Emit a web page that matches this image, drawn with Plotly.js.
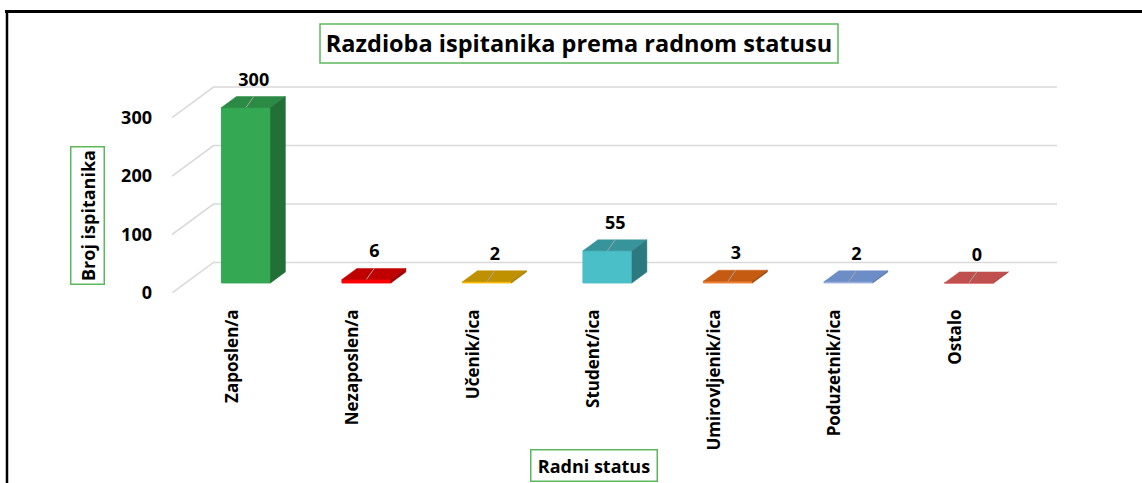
<!DOCTYPE html>
<html>
<head>
<meta charset="utf-8">
<script src="https://cdn.plot.ly/plotly-3.0.1.min.js"></script>
<style>
  html, body { margin: 0; padding: 0; background: #ffffff; }
  #chart { width: 1142px; height: 483px; }
</style>
</head>
<body>
<div id="chart"></div>
<script>
// ---- data ----
const categories = ['Zaposlen/a', 'Nezaposlen/a', 'Učenik/ica', 'Student/ica', 'Umirovljenik/ica', 'Poduzetnik/ica', 'Ostalo'];
const values = [300, 6, 2, 55, 3, 2, 0];
const yTicks = [0, 100, 200, 300];
const frontColors = ['#34A853', '#FF0000', '#FFC000', '#4BBFC8', '#ED7D31', '#9DB7E3', '#E06060'];
const topColors   = ['#2B8B45', '#C00000', '#BF9000', '#37949B', '#C55A11', '#6C8DC6', '#C0504D'];
const sideColors  = ['#226F37', '#A00000', '#A07800', '#2C7A80', '#A04A0E', '#5A78B0', '#A04040'];

// ---- geometry (oblique 3D projection) ----
const L = 172, R = 85, T = 55, B = 190, W = 1142, H = 483;
const plotW = W - L - R, plotH = H - T - B;
const pxPerCat = 120.5, pxPerUnit = 0.5847;
const DX = 41.5 / pxPerCat;      // full depth in x units
const DY = 30.5 / pxPerUnit;     // full depth in y units
const d1 = 0.33, d2 = 0.69;      // bar front/back depth
const bw = 49 / pxPerCat;        // bar width
const xMin = -0.5, xMax = xMin + plotW / pxPerCat;
const yMax = plotH / pxPerUnit;
const n = categories.length;

const px2paperX = p => (p - L) / plotW;
const px2paperY = p => 1 - (p - T) / plotH;

const traces = [];
// front faces (bars)
traces.push({
  type: 'bar',
  x: categories.map((c, i) => i + d1 * DX),
  y: values,
  base: values.map(() => d1 * DY),
  width: bw,
  marker: { color: frontColors, line: { color: frontColors, width: 1 } },
  hoverinfo: 'skip',
  showlegend: false
});
// top and side faces
values.forEach((v, i) => {
  const xl = i - bw / 2, xr = i + bw / 2;
  traces.push({
    type: 'scatter', mode: 'lines', fill: 'toself',
    x: [xl + d1 * DX, xr + d1 * DX, xr + d2 * DX, xl + d2 * DX, xl + d1 * DX],
    y: [v + d1 * DY, v + d1 * DY, v + d2 * DY, v + d2 * DY, v + d1 * DY],
    fillcolor: topColors[i], line: { color: topColors[i], width: 0.5 },
    hoverinfo: 'skip', showlegend: false
  });
  traces.push({
    type: 'scatter', mode: 'lines', fill: 'toself',
    x: [xr + d1 * DX, xr + d2 * DX, xr + d2 * DX, xr + d1 * DX, xr + d1 * DX],
    y: [d1 * DY, d2 * DY, v + d2 * DY, v + d1 * DY, d1 * DY],
    fillcolor: sideColors[i], line: { color: sideColors[i], width: 0.5 },
    hoverinfo: 'skip', showlegend: false
  });
});
// leader lines and data labels
const labX = values.map((v, i) => i + d1 * DX + 0.065);
const lx = [], ly = [];
values.forEach((v, i) => {
  lx.push(i + d1 * DX, labX[i], null);
  ly.push(v + d1 * DY, v + d2 * DY, null);
});
traces.push({
  type: 'scatter', mode: 'lines', x: lx, y: ly,
  line: { color: '#A6A6A6', width: 1 }, hoverinfo: 'skip', showlegend: false
});
traces.push({
  type: 'scatter', mode: 'text',
  x: labX,
  y: values.map(v => v + d2 * DY + 15.5 / pxPerUnit),
  text: values.map(String),
  textposition: 'middle center',
  textfont: { family: 'Open Sans, sans-serif', size: 18, color: '#000000', weight: 700 },
  cliponaxis: false, hoverinfo: 'skip', showlegend: false
});

// back wall gridlines as below-layer path shapes
const shapes = yTicks.map(t => ({
  type: 'path', layer: 'below', xref: 'x', yref: 'y',
  path: `M ${xMin},${t} L ${xMin + DX},${t + DY} L ${xMin + n + DX},${t + DY}`,
  line: { color: '#D9D9D9', width: 1.5 }
}));
// chart frame
shapes.push({ type: 'line', xref: 'paper', yref: 'paper',
  x0: px2paperX(5), x1: px2paperX(1142), y0: px2paperY(11.5), y1: px2paperY(11.5),
  line: { color: '#000000', width: 3 } });
shapes.push({ type: 'line', xref: 'paper', yref: 'paper',
  x0: px2paperX(7), x1: px2paperX(7), y0: px2paperY(10), y1: px2paperY(484),
  line: { color: '#000000', width: 2.5 } });
// title box
shapes.push({ type: 'rect', xref: 'paper', yref: 'paper',
  x0: px2paperX(320), x1: px2paperX(838), y0: px2paperY(24), y1: px2paperY(63),
  line: { color: '#5CB85C', width: 1.5 }, fillcolor: 'rgba(0,0,0,0)' });

const boldFont = (s) => ({ family: 'Open Sans, sans-serif', size: s, color: '#000000', weight: 700 });

const layout = {
  width: W, height: H,
  margin: { l: L, r: R, t: T, b: B, pad: 0 },
  paper_bgcolor: '#ffffff', plot_bgcolor: 'rgba(0,0,0,0)',
  title: {
    text: 'Razdioba ispitanika prema radnom statusu',
    x: 579 / W, xref: 'container', xanchor: 'center',
    y: 1 - 44 / H, yref: 'container', yanchor: 'middle',
    font: boldFont(23.5)
  },
  xaxis: {
    range: [xMin, xMax], tickvals: categories.map((c, i) => i), ticktext: categories,
    tickangle: -90, showgrid: false, zeroline: false, showline: false, ticks: '',
    ticklabelstandoff: 12, tickfont: boldFont(17), fixedrange: true
  },
  yaxis: {
    range: [0, yMax], tickvals: yTicks, ticktext: yTicks.map(String),
    showgrid: false, zeroline: false, showline: false, ticks: '',
    ticklabelstandoff: 19, tickfont: boldFont(18), fixedrange: true
  },
  shapes: shapes,
  annotations: [
    { text: 'Broj ispitanika', xref: 'paper', yref: 'paper',
      x: px2paperX(87), y: px2paperY(216), xanchor: 'center', yanchor: 'middle',
      textangle: -90, showarrow: false, font: boldFont(18),
      width: 134, height: 30, bordercolor: '#5CB85C', borderwidth: 1.5, borderpad: 1 },
    { text: 'Radni status', xref: 'paper', yref: 'paper',
      x: px2paperX(594), y: px2paperY(465.5), xanchor: 'center', yanchor: 'middle',
      showarrow: false, font: boldFont(18),
      width: 123, height: 28, bordercolor: '#5CB85C', borderwidth: 1.5, borderpad: 1 }
  ],
  showlegend: false
};

Plotly.newPlot('chart', traces, layout, { displayModeBar: false, staticPlot: true });
</script>
</body>
</html>
